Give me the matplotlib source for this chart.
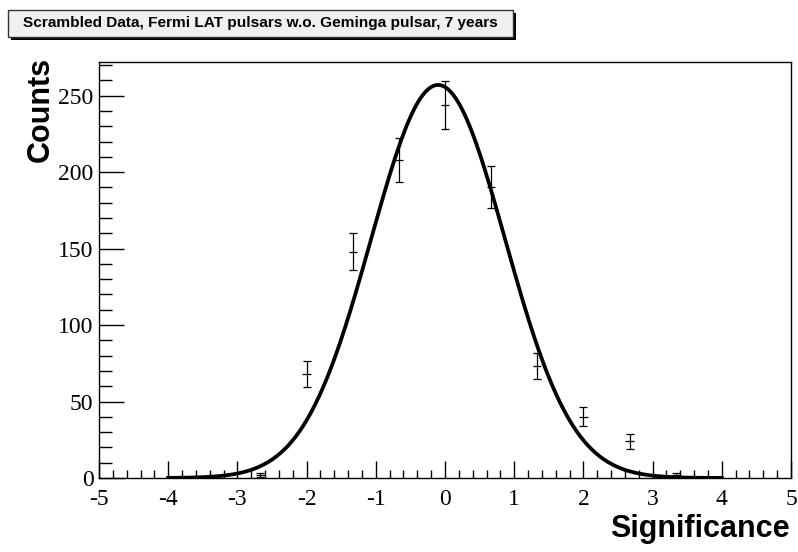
import numpy as np
import matplotlib
matplotlib.use("Agg")
import matplotlib.pyplot as plt
from matplotlib.patches import Rectangle
from matplotlib.ticker import MultipleLocator

plt.rcParams["axes.unicode_minus"] = False

# bin centres (width 2/3) and counts of the scrambled-data significance histogram
bin_centres = [-8/3, -2.0, -4/3, -2/3, 0.0, 2/3, 4/3, 2.0, 8/3, 10/3]
counts = [2, 68, 148, 208, 244, 190, 73, 40, 24, 2]

# gaussian fit parameters
fit_amp = 257.0
fit_mean = -0.10
fit_sigma = 0.97
fit_range = (-4.0, 4.0)

title = "Scrambled Data, Fermi LAT pulsars w.o. Geminga pulsar, 7 years"

fig = plt.figure(figsize=(7.98, 5.52), dpi=100)
ax = fig.add_axes([99/798, 74/552, 692/798, 416/552])

x = np.array(bin_centres)
y = np.array(counts, dtype=float)
# vertical errors with end caps, short horizontal bars without
ax.errorbar(x, y, yerr=np.sqrt(y), fmt="none", ecolor="black",
            elinewidth=0.9, capsize=3, capthick=0.9, zorder=3)
ax.errorbar(x, y, xerr=0.06, fmt="none", ecolor="black",
            elinewidth=0.9, capsize=0, zorder=3)

xf = np.linspace(fit_range[0], fit_range[1], 400)
yf = fit_amp * np.exp(-0.5 * ((xf - fit_mean) / fit_sigma) ** 2)
ax.plot(xf, yf, color="black", lw=2.7, zorder=4)

ax.set_xlim(-5, 5)
ax.set_ylim(0, 272)
ax.xaxis.set_major_locator(MultipleLocator(1))
ax.xaxis.set_minor_locator(MultipleLocator(0.2))
ax.yaxis.set_major_locator(MultipleLocator(50))
ax.yaxis.set_minor_locator(MultipleLocator(10))
ax.tick_params(which="both", direction="in", top=False, right=False, width=1)
ax.tick_params(axis="x", which="major", length=12, pad=8)
ax.tick_params(axis="x", which="minor", length=6)
ax.tick_params(axis="y", which="major", length=18, pad=4)
ax.tick_params(axis="y", which="minor", length=9)
for lab in ax.get_xticklabels() + ax.get_yticklabels():
    lab.set_family("Liberation Serif")
    lab.set_fontsize(17)
for sp in ax.spines.values():
    sp.set_linewidth(1)

fig.text(790/798, 1 - 537/552, "Significance", ha="right", va="baseline",
         fontsize=22, fontweight="bold", family="Liberation Sans")
fig.text(26/798, 1 - 57/552, "Counts", ha="left", va="top", rotation=90,
         fontsize=22, fontweight="bold", family="Liberation Sans")

# title pave with drop shadow
W, H = 798, 552
shadow = Rectangle((11/W, 1 - 40/H), 505/W, 27/H, transform=fig.transFigure,
                   facecolor="black", edgecolor="none", zorder=1)
box = Rectangle((8/W, 1 - 37/H), 505/W, 27/H, transform=fig.transFigure,
                facecolor="#f0f0f0", edgecolor="#333333", lw=1, zorder=2)
fig.patches.extend([shadow, box])
fig.text((8 + 505/2)/W, 1 - 23.5/H, title, ha="center", va="center",
         fontsize=11.1, fontweight="bold", family="Liberation Sans", zorder=3)

fig.savefig("out.png", dpi=100)
